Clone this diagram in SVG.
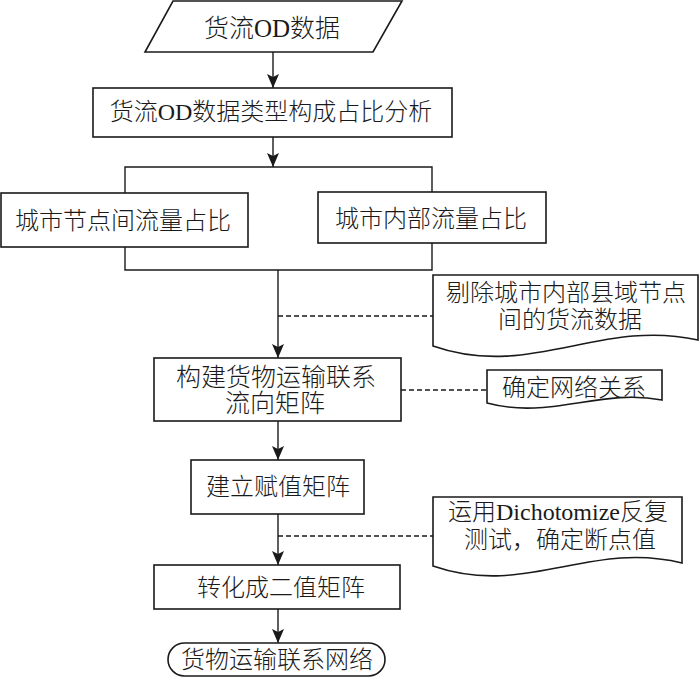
<svg xmlns="http://www.w3.org/2000/svg" width="700" height="679" viewBox="0 0 700 679">
<style>
  .shape { fill: #fff; stroke: #1a1a1a; stroke-width: 1.6; }
  .line { fill: none; stroke: #1a1a1a; stroke-width: 1.4; }
  .dash { fill: none; stroke: #1a1a1a; stroke-width: 1.4; stroke-dasharray: 5 3; }
  text { font-family: "Liberation Serif", "Noto Sans CJK SC", serif; font-size: 24px; font-weight: 300; fill: #1a1a1a; text-anchor: middle; dominant-baseline: central; }
  .big { font-size: 25px; }
</style>
<defs>
  <marker id="arrow" markerUnits="userSpaceOnUse" markerWidth="14" markerHeight="12" refX="14" refY="6" orient="auto">
    <path d="M0,0 L14,6 L0,12 L3,6 z" fill="#1a1a1a"/>
  </marker>
</defs>
<rect width="700" height="679" fill="#fff"/>

<g id="connectors">
  <line class="line" x1="273" y1="52" x2="273" y2="88" marker-end="url(#arrow)"/>
  <line class="line" x1="273" y1="137" x2="273" y2="167" marker-end="url(#arrow)"/>
  <polyline class="line" points="125,193 125,167 432,167 432,192"/>
  <polyline class="line" points="125,247 125,270 432,270 432,243"/>
  <line class="line" x1="278" y1="270" x2="278" y2="358" marker-end="url(#arrow)"/>
  <line class="dash" x1="278" y1="316" x2="433" y2="316"/>
  <line class="dash" x1="401" y1="390" x2="487" y2="390"/>
  <line class="line" x1="278" y1="421" x2="278" y2="460" marker-end="url(#arrow)"/>
  <line class="line" x1="278" y1="514" x2="278" y2="565" marker-end="url(#arrow)"/>
  <line class="dash" x1="278" y1="536" x2="433" y2="536"/>
  <line class="line" x1="278" y1="609" x2="278" y2="643" marker-end="url(#arrow)"/>
</g>

<g id="n-od-data">
  <polygon class="shape" points="173,1 402,1 373,52 145,52"/>
  <text class="big" x="272" y="28">货流OD数据</text>
</g>

<g id="n-analysis">
  <rect class="shape" x="93" y="88" width="359" height="49"/>
  <text x="271" y="112">货流OD数据类型构成占比分析</text>
</g>

<g id="n-between">
  <rect class="shape" x="1" y="193" width="247" height="54"/>
  <text x="123" y="221">城市节点间流量占比</text>
</g>

<g id="n-internal">
  <rect class="shape" x="318" y="192" width="228" height="51"/>
  <text x="431" y="219">城市内部流量占比</text>
</g>

<g id="n-remove">
  <path class="shape" d="M433,275 H698 V340 C600,318 530,380 433,346 Z"/>
  <text x="566" y="293">剔除城市内部县域节点</text>
  <text x="570" y="320">间的货流数据</text>
</g>

<g id="n-matrix">
  <rect class="shape" x="154" y="358" width="247" height="63"/>
  <text class="big" x="276" y="377">构建货物运输联系</text>
  <text class="big" x="275" y="403">流向矩阵</text>
</g>

<g id="n-network-rel">
  <path class="shape" d="M487,370 H662 V400 C600,388 550,420 487,403 Z"/>
  <text x="574" y="388">确定网络关系</text>
</g>

<g id="n-assign">
  <rect class="shape" x="191" y="460" width="173" height="54"/>
  <text x="278" y="487">建立赋值矩阵</text>
</g>

<g id="n-dichotomize">
  <path class="shape" d="M433,497 H682 V563 C590,540 525,598 433,566 Z"/>
  <text x="558" y="512">运用Dichotomize反复</text>
  <text x="560" y="540">测试，确定断点值</text>
</g>

<g id="n-binary">
  <rect class="shape" x="154" y="565" width="246" height="44"/>
  <text x="281" y="588">转化成二值矩阵</text>
</g>

<g id="n-network">
  <rect class="shape" x="168" y="643" width="217" height="33" rx="16.5" ry="16.5"/>
  <text x="277" y="660">货物运输联系网络</text>
</g>
</svg>
